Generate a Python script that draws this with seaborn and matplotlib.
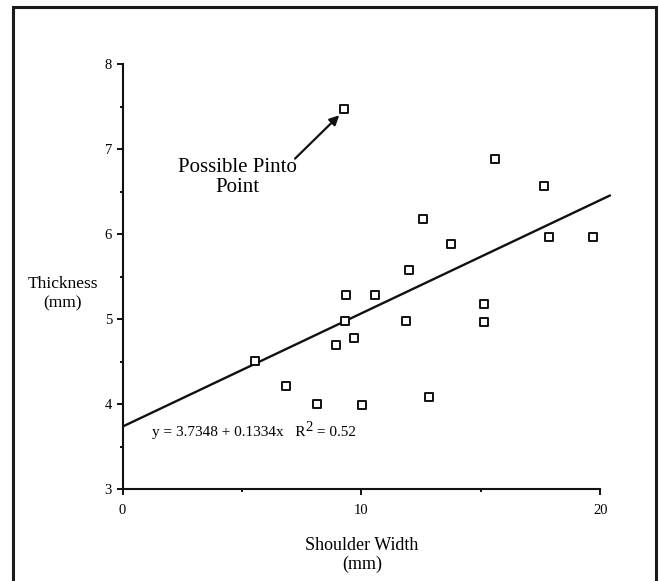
import matplotlib
matplotlib.use("Agg")
import matplotlib.pyplot as plt
import seaborn as sns
import pandas as pd
from matplotlib.ticker import MultipleLocator
from matplotlib.patches import Rectangle

# Data
shoulder_width = [5.56, 6.85, 8.13, 8.95, 9.29, 9.35, 9.28, 9.70, 10.04, 10.58,
                  11.86, 11.99, 12.59, 12.82, 13.73, 15.13, 15.13, 15.57, 17.65,
                  17.86, 19.69]
thickness = [4.51, 4.21, 4.00, 4.69, 4.98, 5.29, 7.47, 4.78, 3.99, 5.29,
             4.98, 5.58, 6.18, 4.08, 5.88, 5.18, 4.97, 6.88, 6.57,
             5.97, 5.97]
intercept = 3.7348
slope = 0.1334
fit_x = [0.0, 20.4]
x_ticks = [0, 10, 20]
y_ticks = [3, 4, 5, 6, 7, 8]

df = pd.DataFrame({"Shoulder Width": shoulder_width, "Thickness": thickness})
fit_df = pd.DataFrame({"x": fit_x, "y": [intercept + slope * v for v in fit_x]})

sns.set_theme(style="ticks")
plt.rcParams['font.family'] = ['Liberation Serif', 'DejaVu Serif']
plt.rcParams['text.color'] = 'black'
plt.rcParams['axes.labelcolor'] = 'black'

fig = plt.figure(figsize=(6.59, 5.81), dpi=100)
ax = fig.add_axes([0.1859, 0.1583, 0.747, 0.731])

sns.lineplot(data=fit_df, x="x", y="y", ax=ax, color="#111111", lw=1.7)
sns.scatterplot(data=df, x="Shoulder Width", y="Thickness", ax=ax, marker="s",
                s=30, facecolor="white", edgecolor="#111111", linewidth=1.4, zorder=3)

ax.set_xlim(0, 20.6)
ax.set_ylim(3, 8)
ax.spines['bottom'].set_bounds(0, 20)
ax.spines['top'].set_visible(False)
ax.spines['right'].set_visible(False)
for s in ['left', 'bottom']:
    ax.spines[s].set_linewidth(1.5)
    ax.spines[s].set_color("#111111")

ax.set_xticks(x_ticks)
ax.set_yticks(y_ticks)
ax.xaxis.set_minor_locator(MultipleLocator(5))
ax.yaxis.set_minor_locator(MultipleLocator(0.5))
ax.tick_params(which='major', direction='out', length=4.5, width=1.4, colors="#111111",
               labelsize=10.5, labelcolor='black')
ax.tick_params(which='minor', direction='out', length=2.3, width=1.4, colors="#111111")
ax.tick_params(axis='x', which='major', pad=6)
ax.tick_params(axis='y', which='major', pad=3)

ax.set_xlabel("Shoulder Width\n(mm)", fontsize=13, linespacing=1.15)
ax.xaxis.set_label_coords(0.4865, -0.156)
ax.xaxis.label.set_va('center')
ax.set_ylabel("Thickness\n(mm)", fontsize=12.5, rotation=0, linespacing=1.35,
              ha='center', va='center')
ax.yaxis.set_label_coords(-0.121, 0.46)

t1 = ax.text(1.23, 3.66, "y = 3.7348 + 0.1334x   R", fontsize=11,
             ha='left', va='center')
t2 = ax.annotate("2", xy=(1.0, 0.42), xycoords=t1, fontsize=10.5,
                 ha='left', va='bottom')
t3 = ax.annotate(" = 0.52", xy=(1.0, 0.0), xycoords=(t2, t1), fontsize=11,
                 ha='left', va='bottom')

ax.text(4.81, 6.67, "Possible Pinto\nPoint", fontsize=15, ha='center', va='center',
        linespacing=1.05)
ax.annotate("", xy=(9.07, 7.40), xytext=(7.22, 6.89),
            arrowprops=dict(arrowstyle="-|>", lw=1.6, color="#111111",
                            mutation_scale=14, shrinkA=0, shrinkB=0))

fig.patches.append(Rectangle((13 / 659, -0.02), (656 - 13) / 659, 1 - 7 / 581 + 0.02,
                             transform=fig.transFigure, fill=False,
                             edgecolor="#1a1a1a", linewidth=2.2))

fig.savefig("out.png", dpi=100, facecolor="white")
